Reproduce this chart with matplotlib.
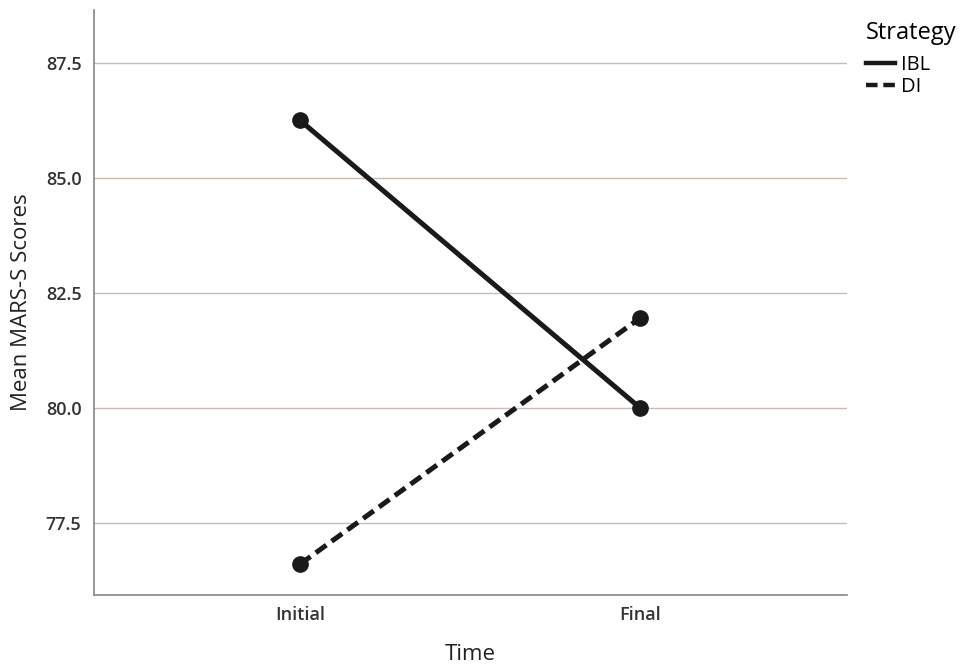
import matplotlib.pyplot as plt
from matplotlib.lines import Line2D

# Data
time_labels = ["Initial", "Final"]
ibl_scores = [86.25, 80.0]
di_scores = [76.6, 81.95]
y_ticks = [77.5, 80.0, 82.5, 85.0, 87.5]

plt.rcParams['font.family'] = ['Open Sans', 'DejaVu Sans']

fig = plt.figure(figsize=(9.62, 6.64), dpi=100)
ax = fig.add_axes([0.0977, 0.1039, 0.7828, 0.8811])

dash = (0, (2.6, 1.3))
x = list(range(len(time_labels)))
ax.plot(x, ibl_scores, color='#1a1a1a', linewidth=3.6, linestyle='-',
        marker='o', markersize=11, zorder=3)
ax.plot(x, di_scores, color='#1a1a1a', linewidth=3.6, linestyle=dash,
        marker='o', markersize=11, zorder=3)

ax.set_xlim(-0.606, 1.609)
ax.set_ylim(75.93, 88.65)
ax.set_xticks(x)
ax.set_xticklabels(time_labels, fontsize=13, color='#333333', fontweight='semibold')
ax.set_yticks(y_ticks)
ax.set_yticklabels([f"{v:.1f}" for v in y_ticks], fontsize=13, color='#333333',
                   fontweight='semibold')
ax.tick_params(length=0, pad=9)
ax.tick_params(axis='x', pad=8)

ax.grid(axis='y', color='#c9bdb5', linewidth=1.0)
ax.set_axisbelow(True)
for side in ['top', 'right']:
    ax.spines[side].set_visible(False)
for side in ['left', 'bottom']:
    ax.spines[side].set_color('#8a847f')
    ax.spines[side].set_linewidth(1.2)

ax.set_xlabel("Time", fontsize=16, color='#222222', labelpad=14)
ax.set_ylabel("Mean MARS-S Scores", fontsize=16, color='#222222', labelpad=10)

# Legend
handles = [Line2D([0], [0], color='#1a1a1a', linewidth=3.2, linestyle='-'),
           Line2D([0], [0], color='#1a1a1a', linewidth=3.2, linestyle=dash)]
leg = fig.legend(handles, ["IBL", "DI"], title="Strategy", loc='upper left',
                 bbox_to_anchor=(0.9, 0.968), frameon=False, fontsize=14.5,
                 title_fontsize=17, handlelength=1.45, handletextpad=0.3,
                 labelspacing=0.1, borderaxespad=0, borderpad=0)
leg._legend_box.align = "left"
leg._legend_box.sep = 7

fig.savefig("out.png", dpi=100)
